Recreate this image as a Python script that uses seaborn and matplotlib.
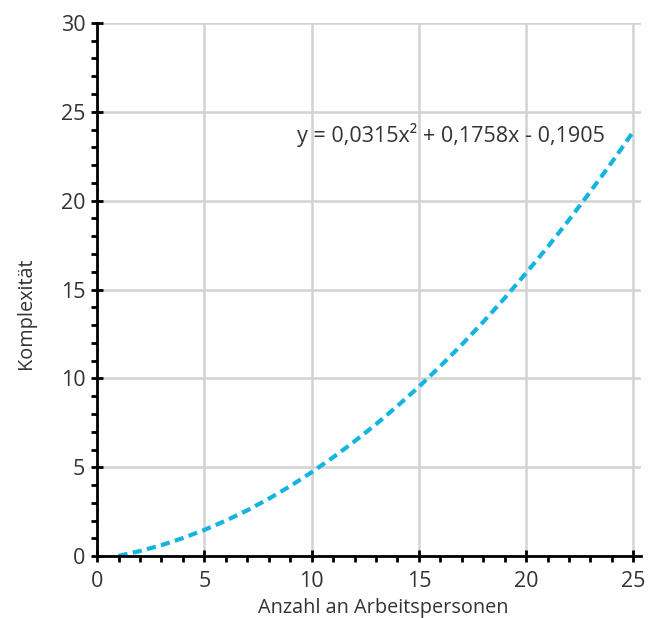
import numpy as np
import pandas as pd
import seaborn as sns
import matplotlib.pyplot as plt
from matplotlib.ticker import MultipleLocator

# Werte
personen = [1, 2, 3, 4, 5, 6, 7, 8, 9, 10, 11, 12, 13, 14, 15, 16, 17, 18, 19, 20, 21, 22, 23, 24, 25]
komplexitaet = [0.02, 0.29, 0.62, 1.02, 1.48, 2.0, 2.58, 3.23, 3.94, 4.72, 5.56, 6.46, 7.42,
                8.45, 9.53, 10.69, 11.9, 13.18, 14.52, 15.93, 17.39, 18.92, 20.52, 22.17, 23.89]
gleichung = "y = 0,0315x² + 0,1758x - 0,1905"

df = pd.DataFrame({"x": personen, "y": komplexitaet})

sns.set_style("white")
plt.rcParams['font.family'] = ['Open Sans', 'DejaVu Sans']

fig = plt.figure(figsize=(6.56, 6.18), dpi=100)
ax = fig.add_axes([0.148, 0.100, 0.829, 0.863])

ax.grid(True, color='#d3d3d3', linewidth=1.8, zorder=0)
ax.set_axisbelow(True)

sns.lineplot(data=df, x="x", y="y", ax=ax, color='#12b5e0', linewidth=3,
             linestyle=(0, (2.2, 1.3)))

ax.set_xlim(0, 25.35)
ax.set_ylim(0, 30)
ax.xaxis.set_major_locator(MultipleLocator(5))
ax.xaxis.set_minor_locator(MultipleLocator(1))
ax.yaxis.set_major_locator(MultipleLocator(5))
ax.yaxis.set_minor_locator(MultipleLocator(1))

for s in ['top', 'right']:
    ax.spines[s].set_visible(False)
for s in ['left', 'bottom']:
    ax.spines[s].set_color('black')
    ax.spines[s].set_linewidth(2)
ax.spines['left'].set_bounds(0, 30)

ax.tick_params(which='major', direction='inout', length=9, width=2, colors='black',
               labelsize=15.5, labelcolor='#333333')
ax.tick_params(axis='x', which='major', pad=6)
ax.tick_params(axis='y', which='major', pad=4)
ax.tick_params(which='minor', direction='out', length=4, width=2, colors='black')
ax.tick_params(axis='x', which='both', bottom=True)
ax.tick_params(axis='y', which='both', left=True)

ax.set_xlabel("Anzahl an Arbeitspersonen", fontsize=14.3, color='#333333')
ax.set_ylabel("Komplexität", fontsize=14.3, color='#333333')
ax.xaxis.set_label_coords(0.526, -0.079)
ax.yaxis.set_label_coords(-0.112, 0.456)

ax.text(23.65, 23.7, gleichung, ha='right', va='center', fontsize=15.5, color='#333333')

fig.savefig("out.png", dpi=100)
